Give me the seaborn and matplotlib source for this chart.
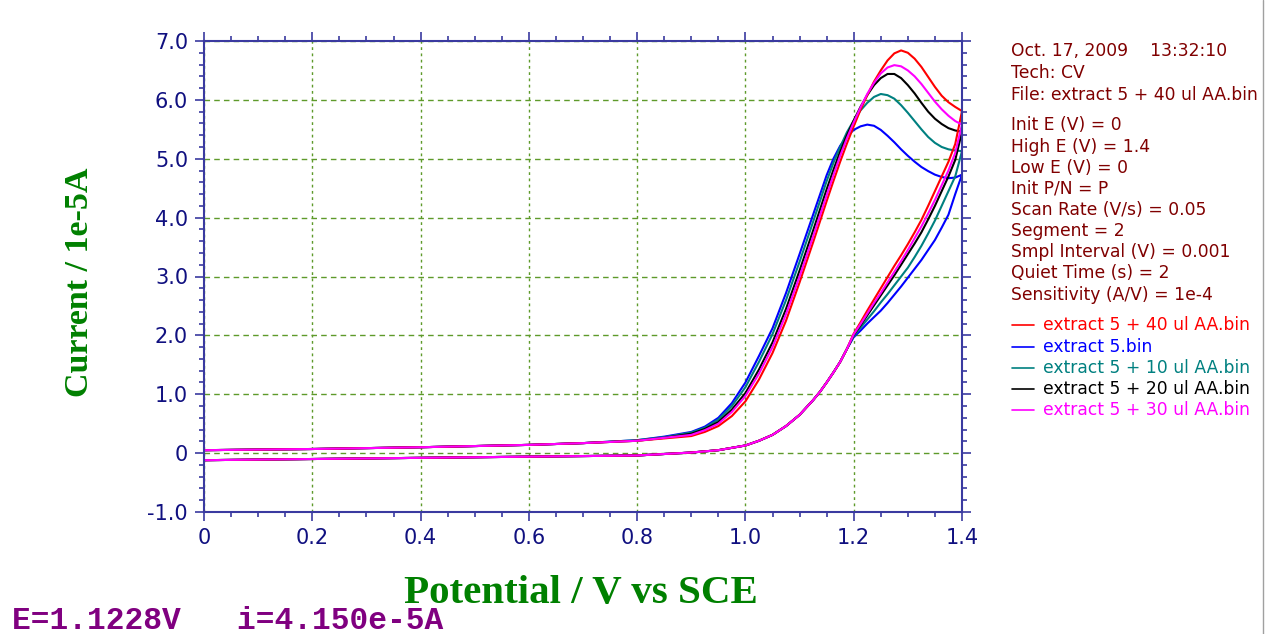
import pandas as pd
import matplotlib
matplotlib.use('Agg')
import matplotlib.pyplot as plt
from matplotlib.lines import Line2D
from matplotlib.ticker import MultipleLocator, FixedLocator, FixedFormatter
import seaborn as sns

# Data (potential in V, current in 1e-5 A)
fwd_e = [0.0, 0.2, 0.4, 0.6, 0.7, 0.8, 0.85, 0.9, 0.925, 0.95, 0.975, 1.0, 1.025, 1.05,
         1.075, 1.1, 1.125, 1.15, 1.1625, 1.175, 1.1875, 1.2, 1.2125, 1.225, 1.2375, 1.25,
         1.2625, 1.275, 1.2875, 1.3, 1.3125, 1.325, 1.3375, 1.35, 1.3625, 1.375, 1.3875, 1.4]
rev_e = [1.4, 1.3875, 1.375, 1.3625, 1.35, 1.3375, 1.325, 1.3125, 1.3, 1.2875, 1.275, 1.2625,
         1.25, 1.2375, 1.225, 1.2125, 1.2, 1.1875, 1.175, 1.1625, 1.15, 1.1375, 1.125, 1.1,
         1.075, 1.05, 1.025, 1.0, 0.95, 0.9, 0.8, 0.6, 0.4, 0.2, 0.0]

red_fwd = [0.05, 0.07, 0.10, 0.14, 0.17, 0.21, 0.25, 0.29, 0.36, 0.46, 0.63, 0.88, 1.25, 1.70,
           2.25, 2.90, 3.58, 4.28, 4.62, 4.95, 5.26, 5.55, 5.83, 6.08, 6.31, 6.50,
           6.67, 6.79, 6.84, 6.80, 6.70, 6.56, 6.39, 6.22, 6.07, 5.96, 5.88, 5.81]
blue_fwd = [0.05, 0.07, 0.10, 0.14, 0.17, 0.22, 0.28, 0.36, 0.45, 0.60, 0.85, 1.20, 1.65, 2.12,
            2.72, 3.38, 4.05, 4.72, 5.00, 5.22, 5.38, 5.49, 5.55, 5.58, 5.56, 5.49,
            5.39, 5.28, 5.16, 5.05, 4.95, 4.86, 4.79, 4.73, 4.69, 4.67, 4.68, 4.73]
teal_fwd = [0.05, 0.07, 0.10, 0.14, 0.17, 0.22, 0.27, 0.35, 0.43, 0.57, 0.80, 1.12, 1.55, 2.02,
            2.60, 3.25, 3.93, 4.62, 4.93, 5.20, 5.45, 5.65, 5.82, 5.95, 6.05, 6.10,
            6.08, 6.02, 5.91, 5.78, 5.64, 5.50, 5.37, 5.27, 5.20, 5.16, 5.14, 5.13]
black_fwd = [0.05, 0.07, 0.10, 0.14, 0.17, 0.21, 0.26, 0.33, 0.41, 0.53, 0.74, 1.02, 1.42, 1.88,
             2.45, 3.10, 3.78, 4.48, 4.81, 5.12, 5.40, 5.65, 5.88, 6.08, 6.25, 6.37,
             6.44, 6.44, 6.37, 6.25, 6.11, 5.95, 5.80, 5.68, 5.59, 5.52, 5.48, 5.46]
magenta_fwd = [0.05, 0.07, 0.10, 0.14, 0.17, 0.21, 0.26, 0.31, 0.39, 0.50, 0.70, 0.97, 1.35, 1.80,
               2.36, 3.00, 3.68, 4.38, 4.72, 5.05, 5.35, 5.62, 5.87, 6.10, 6.29, 6.45,
               6.55, 6.59, 6.57, 6.50, 6.40, 6.27, 6.12, 5.97, 5.84, 5.73, 5.64, 5.58]

red_rev = [5.81, 5.25, 4.95, 4.70, 4.45, 4.20, 3.96, 3.75, 3.55, 3.36, 3.18, 2.99, 2.80, 2.61,
           2.42, 2.22, 2.03]
blue_rev = [4.73, 4.40, 4.05, 3.83, 3.62, 3.45, 3.28, 3.13, 2.98, 2.83, 2.69, 2.55, 2.42, 2.31,
            2.20, 2.08, 1.97]
teal_rev = [5.13, 4.70, 4.45, 4.20, 3.95, 3.73, 3.52, 3.33, 3.15, 3.00, 2.85, 2.70, 2.56, 2.41,
            2.27, 2.13, 1.99]
black_rev = [5.46, 4.98, 4.70, 4.45, 4.20, 3.97, 3.75, 3.56, 3.38, 3.20, 3.02, 2.85, 2.68, 2.51,
             2.34, 2.17, 2.01]
magenta_rev = [5.58, 5.10, 4.80, 4.55, 4.30, 4.07, 3.85, 3.65, 3.45, 3.26, 3.08, 2.90, 2.72, 2.55,
               2.37, 2.19, 2.02]
# below ~1.2 V the return sweeps lie on top of each other
rev_tail = [1.77, 1.55, 1.37, 1.20, 1.04, 0.90, 0.65, 0.46, 0.31, 0.21, 0.13, 0.05, 0.01,
            -0.04, -0.06, -0.08, -0.10, -0.12]

labels = ['extract 5 + 40 ul AA.bin', 'extract 5.bin', 'extract 5 + 10 ul AA.bin',
          'extract 5 + 20 ul AA.bin', 'extract 5 + 30 ul AA.bin']
colors = ['#FF0000', '#0000FF', '#008080', '#000000', '#FF00FF']

xtick_vals = [0.0, 0.2, 0.4, 0.6, 0.8, 1.0, 1.2, 1.4]
xtick_labels = ['0', '0.2', '0.4', '0.6', '0.8', '1.0', '1.2', '1.4']
ytick_vals = [-1, 0, 1, 2, 3, 4, 5, 6, 7]
ytick_labels = ['-1.0', '0', '1.0', '2.0', '3.0', '4.0', '5.0', '6.0', '7.0']

info_lines = [
    ('Oct. 17, 2009    13:32:10', 51),
    ('Tech: CV', 73),
    ('File: extract 5 + 40 ul AA.bin', 95),
    ('Init E (V) = 0', 125),
    ('High E (V) = 1.4', 147),
    ('Low E (V) = 0', 168),
    ('Init P/N = P', 189),
    ('Scan Rate (V/s) = 0.05', 210),
    ('Segment = 2', 231),
    ('Smpl Interval (V) = 0.001', 252),
    ('Quiet Time (s) = 2', 273),
    ('Sensitivity (A/V) = 1e-4', 295),
]
legend_y = [325, 347, 368, 389, 410]

W, H = 1266, 634
AXIS_COLOR = '#3A3AA0'
GRID_COLOR = '#5E9A2A'


def fx(px):
    return px / W


def fy(py):
    return 1 - py / H


def main():
    sns.set_style('white')
    plt.rcParams['font.family'] = ['DejaVu Sans']

    fwd = [red_fwd, blue_fwd, teal_fwd, black_fwd, magenta_fwd]
    rev = [red_rev, blue_rev, teal_rev, black_rev, magenta_rev]
    rows = []
    for lab, f, r in zip(labels, fwd, rev):
        for e, i in zip(fwd_e, f):
            rows.append({'E': e, 'I': i, 'trace': lab})
        for e, i in zip(rev_e, r + rev_tail):
            rows.append({'E': e, 'I': i, 'trace': lab})
    df = pd.DataFrame(rows)

    fig = plt.figure(figsize=(W / 100, H / 100), dpi=100)
    ax = fig.add_axes([fx(204), fy(512), fx(962) - fx(204), fy(41) - fy(512)])

    palette = dict(zip(labels, colors))
    draw_order = [labels[1], labels[2], labels[3], labels[0], labels[4]]
    sns.lineplot(data=df, x='E', y='I', hue='trace', hue_order=draw_order, palette=palette,
                 sort=False, estimator=None, legend=False, linewidth=1.5, ax=ax)

    ax.set_xlim(0, 1.4)
    ax.set_ylim(-1, 7)
    ax.xaxis.set_major_locator(FixedLocator(xtick_vals))
    ax.xaxis.set_major_formatter(FixedFormatter(xtick_labels))
    ax.yaxis.set_major_locator(FixedLocator(ytick_vals))
    ax.yaxis.set_major_formatter(FixedFormatter(ytick_labels))
    ax.xaxis.set_minor_locator(MultipleLocator(0.05))
    ax.yaxis.set_minor_locator(MultipleLocator(0.2))
    ax.set_xlabel('')
    ax.set_ylabel('')

    ax.tick_params(which='both', direction='out', top=True, right=True, bottom=True, left=True,
                   color=AXIS_COLOR, width=1.2, labelcolor='#101080', labelsize=15)
    ax.tick_params(which='major', length=6.5, pad=5)
    ax.tick_params(which='minor', length=3.5)
    for s in ax.spines.values():
        s.set_color(AXIS_COLOR)
        s.set_linewidth(1.5)

    ax.xaxis.grid(True, which='major', linestyle=(0, (2, 2.5)), color=GRID_COLOR, linewidth=1)
    ax.yaxis.grid(True, which='major', linestyle=(0, (4, 3)), color=GRID_COLOR, linewidth=1)
    ax.set_axisbelow(True)

    fig.text(fx(581), fy(593), 'Potential / V vs SCE', ha='center', va='center',
             family='Liberation Serif', fontweight='bold', fontsize=29.5, color='#008000')
    fig.text(fx(80), fy(282), 'Current / 1e-5A', ha='center', va='center', rotation=90,
             family='Liberation Serif', fontweight='bold', fontsize=24.5, color='#008000')

    for txt, y in info_lines:
        fig.text(fx(1011), fy(y), txt, ha='left', va='center', fontsize=12.3, color='#800000')

    for lab, col, y in zip(labels, colors, legend_y):
        fig.add_artist(Line2D([fx(1012), fx(1034)], [fy(y), fy(y)], color=col, linewidth=1.2))
        fig.text(fx(1043), fy(y), lab, ha='left', va='center', fontsize=12.3, color=col)

    fig.text(fx(12), fy(621), 'E=1.1228V   i=4.150e-5A', ha='left', va='center',
             family='Liberation Mono', fontweight='bold', fontsize=22.5, color='#800080')

    # thin window edge at the right
    fig.add_artist(Line2D([fx(1263), fx(1263)], [0, 1], color='#A0A0A0', linewidth=1))

    fig.savefig('out.png', dpi=100)


if __name__ == "__main__":
    main()
